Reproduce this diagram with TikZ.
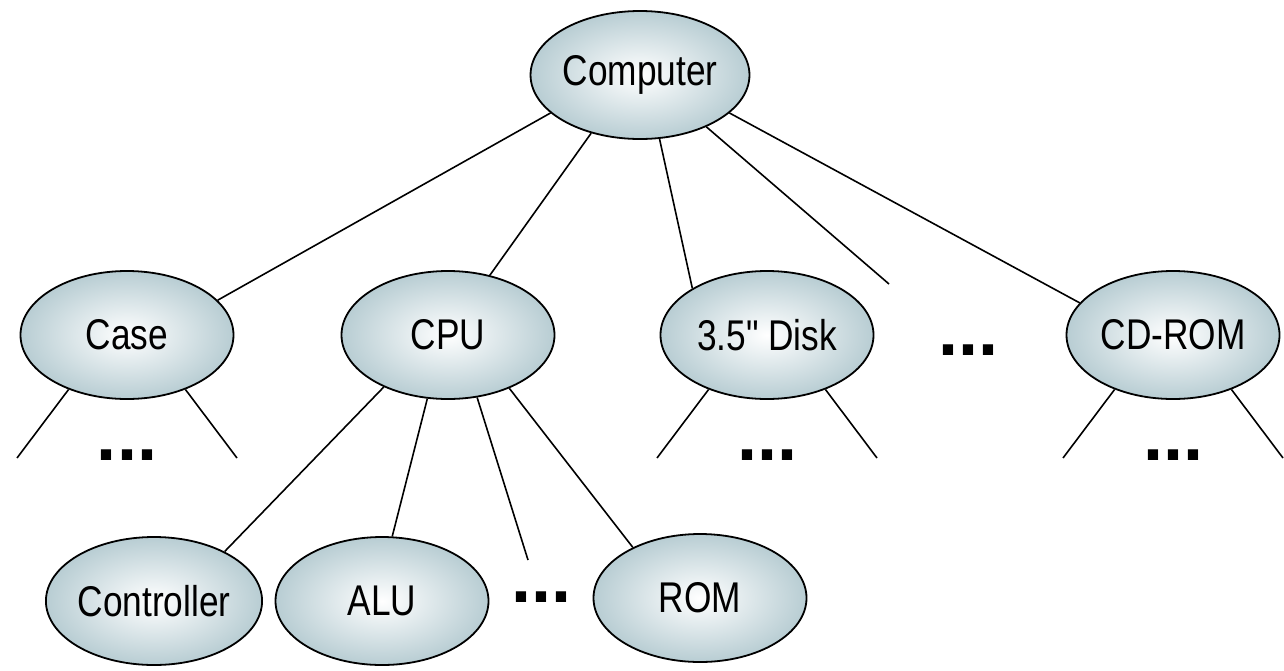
\documentclass[tikz,border=0pt]{standalone}
\usepackage{fontspec}
\setmainfont{Liberation Sans}
\newfontfamily\narrowfont[FakeStretch=0.82]{Liberation Sans}
\usepackage{tikz}
\usetikzlibrary{calc,shapes.geometric}
\definecolor{PartShade}{RGB}{184,205,211}

\tikzset{
  part/.style={ellipse, draw, line width=1.8pt, minimum width=213pt, minimum height=128pt,
    inner sep=0pt, shading=radial, inner color=white, outer color=PartShade,
    font=\narrowfont\fontsize{43}{48}\selectfont},
  more/.style={inner sep=0pt, font=\fontsize{72}{80}\selectfont\bfseries},
  link/.style={line width=1.6pt}
}

\begin{document}
\begin{tikzpicture}[x=1pt, y=-1pt]
        \useasboundingbox (0,0) rectangle (1284,670);

        % Whole machine
        \node[part] (computer) at (640,75) {Computer};

        % Its parts
        \node[part] (case) at (127,335) {Case};
        \node[part] (cpu) at (448,335) {CPU};
        \node[part] (disk) at (767,335) {3.5" Disk};
        \node[more] (partsMore) at (968,350) {...};
        \node[part] (cdrom) at (1173,335) {CD-ROM};
        \coordinate (partsGap) at (889,284);

        \draw[link] (computer.203) -- (case.21);
        \draw[link] (computer.230) -- (cpu.55);
        \draw[link] (computer.287) -- (disk.148);
        \draw[link] (computer.322) -- (partsGap);
        \draw[link] (computer.337) -- (cdrom.161);

        % Parts of the CPU
        \node[part] (ctrl) at (154,601) {Controller};
        \node[part] (alu) at (382,601) {ALU};
        \node[more] (cpuMore) at (541,597) {...};
        \node[part] (rom) at (700,598) {ROM};
        \coordinate (cpuGap) at (528,560);

        \draw[link] (cpu.219) -- (ctrl.35);
        \draw[link] (cpu.252) -- (alu.81);
        \draw[link] (cpu.295) -- (cpuGap);
        \draw[link] (cpu.319) -- (rom.143);

        % Parts not shown
        \node[more] (caseMore) at (127,455) {...};
        \node[more] (diskMore) at (767,455) {...};
        \node[more] (cdromMore) at (1173,455) {...};

        \coordinate (caseL) at ($(case)+(-110,123)$);
        \coordinate (caseR) at ($(case)+(110,123)$);
        \coordinate (diskL) at ($(disk)+(-110,123)$);
        \coordinate (diskR) at ($(disk)+(110,123)$);
        \coordinate (cdromL) at ($(cdrom)+(-110,123)$);
        \coordinate (cdromR) at ($(cdrom)+(110,123)$);

        \draw[link] (case.223) -- (caseL);
        \draw[link] (case.317) -- (caseR);
        \draw[link] (disk.223) -- (diskL);
        \draw[link] (disk.317) -- (diskR);
        \draw[link] (cdrom.223) -- (cdromL);
        \draw[link] (cdrom.317) -- (cdromR);
    \end{tikzpicture}
\end{document}
